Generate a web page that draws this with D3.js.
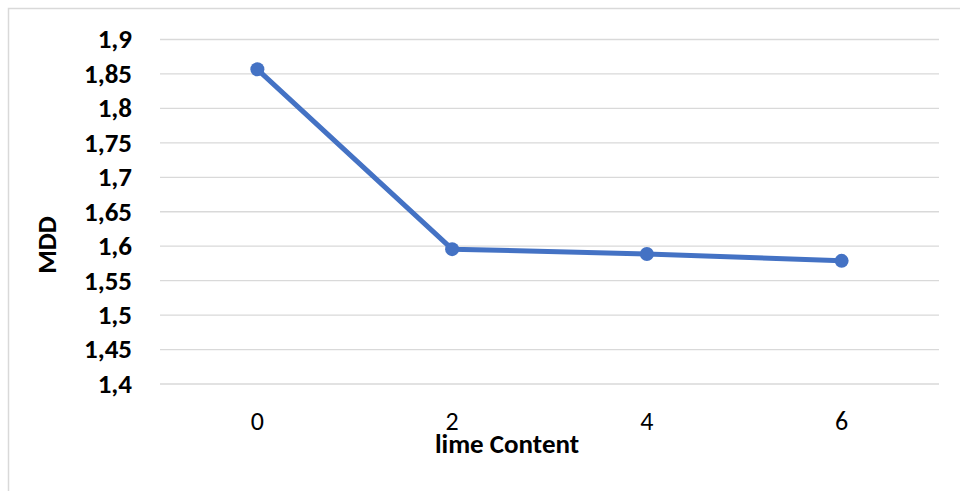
<!DOCTYPE html>
<html><head><meta charset="utf-8">
<script src="https://cdn.jsdelivr.net/npm/d3@7"></script>
<style>body{margin:0;background:#fff}svg{display:block}</style>
</head><body>
<script>
const categories = ["0","2","4","6"];
const mddValues = [1.856, 1.595, 1.588, 1.578];
const yTicks = [1.4,1.45,1.5,1.55,1.6,1.65,1.7,1.75,1.8,1.85,1.9];
const xTitle = "lime Content";
const yTitle = "MDD";

const W = 960, H = 491;
const svg = d3.select("body").append("svg").attr("width", W).attr("height", H);
svg.append("rect").attr("x", 8.5).attr("y", 8.5).attr("width", 1000).attr("height", 600)
  .attr("fill", "#fff").attr("stroke", "#d9d9d9").attr("stroke-width", 1.5);

const pLeft = 160, pRight = 939, pTop = 39, pBottom = 383.5;
const x = d3.scaleBand().domain(categories).range([pLeft, pRight]);
const y = d3.scaleLinear().domain([1.4, 1.9]).range([pBottom, pTop]);
const fmt = d => d3.format("")(+d.toFixed(2)).replace(".", ",");

const font = "Carlito, 'Open Sans', 'Liberation Sans', sans-serif";

const yAxis = svg.append("g").attr("transform", `translate(${pLeft},0)`)
  .call(d3.axisLeft(y).tickValues(yTicks).tickSize(-(pRight-pLeft)).tickPadding(28).tickFormat(fmt));
yAxis.select(".domain").remove();
yAxis.selectAll("line").attr("stroke", "#d9d9d9").attr("stroke-width", 1.3);
yAxis.selectAll("text").attr("font-family", font).attr("font-weight", "bold")
  .attr("font-size", 27).attr("fill", "#000").attr("dy", "0.33em");

const xAxis = svg.append("g").attr("transform", `translate(0,${pBottom})`)
  .call(d3.axisBottom(x).tickSize(0).tickPadding(0));
xAxis.select(".domain").remove();
xAxis.selectAll("text").attr("font-family", font).attr("font-size", 26).attr("fill", "#000")
  .attr("y", 46).attr("dy", 0);

const line = d3.line().x((d,i) => x(categories[i]) + x.bandwidth()/2).y(d => y(d));
svg.append("path").datum(mddValues).attr("d", line).attr("fill", "none")
  .attr("stroke", "#4472c4").attr("stroke-width", 5).attr("stroke-linejoin", "round");
svg.selectAll("circle.pt").data(mddValues).enter().append("circle").attr("class","pt")
  .attr("cx", (d,i) => x(categories[i]) + x.bandwidth()/2).attr("cy", d => y(d))
  .attr("r", 7).attr("fill", "#4472c4");

svg.append("text").attr("x", 507).attr("y", 453).attr("text-anchor", "middle")
  .attr("font-family", font).attr("font-weight", "bold").attr("font-size", 27).text(xTitle);
svg.append("text").attr("transform", "translate(56,245) rotate(-90)").attr("text-anchor", "middle")
  .attr("font-family", font).attr("font-weight", "bold").attr("font-size", 27).text(yTitle);
</script>
</body></html>
